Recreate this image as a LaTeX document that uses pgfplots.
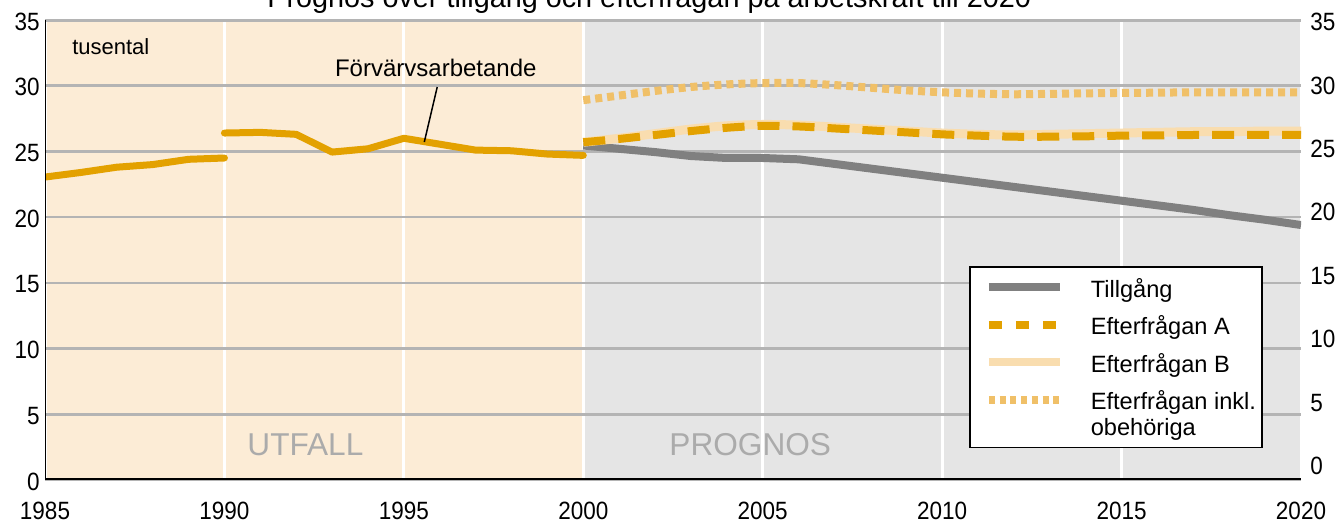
\documentclass[border=0pt]{standalone}
\usepackage{fontspec}
\setmainfont{Liberation Sans}
\newfontfamily\narrowfont[FakeStretch=0.9]{Liberation Sans}
\usepackage{pgfplots}
\pgfplotsset{compat=1.18}
\definecolor{gold}{HTML}{E3A100}
\definecolor{lightB}{HTML}{F9DDAF}
\definecolor{dotc}{HTML}{F0C068}
\definecolor{grayT}{HTML}{808080}
\definecolor{beige}{HTML}{FCECD6}
\definecolor{bggray}{HTML}{E5E5E5}
\definecolor{gridgray}{HTML}{B4B4B4}
\definecolor{labgray}{HTML}{ABABAB}
\begin{document}
\begin{tikzpicture}
\begin{axis}[
 set layers,
 scale only axis, width=628pt, height=230pt,
 xmin=1985, xmax=2020, ymin=0, ymax=35,
 xtick={1985,1990,...,2020}, ytick={0,5,...,35},
 grid=major,
 major x grid style={white, line width=1.5pt},
 major y grid style={gridgray, line width=1.3pt},
 axis line style={draw=none},
 major tick length=0pt,
 tick label style={font=\fontsize{12.5}{14}\narrowfont},
 /pgf/number format/assume math mode=true,
 /pgf/number format/1000 sep={},
 xticklabel style={inner ysep=0pt, yshift=-11pt, anchor=north},
 yticklabel style={inner xsep=0pt, xshift=-2.5pt, yshift=-0.8pt, anchor=east},
 legend style={at={(rel axis cs:0.7357,0.4652)}, anchor=north west, draw=black, line width=0.75pt, fill=white,
   inner xsep=3pt, inner ysep=5.35pt, row sep=7.9pt, font=\fontsize{11.8}{12.5}\selectfont,
   nodes={inner sep=0pt, text height=10pt, text depth=0.8pt}, cells={anchor=base west}},
 legend image code/.code={\path[draw=none,fill=none] (0pt,0pt) -- (57.5pt,0pt); \draw[#1] (6.5pt,5pt) -- (42pt,5pt);},
]
\begin{pgfonlayer}{axis background}
\fill[beige] (axis cs:1985,0) rectangle (axis cs:2000,35);
\fill[bggray] (axis cs:2000,0) rectangle (axis cs:2020,35);
\end{pgfonlayer}
\coordinate (SW) at (rel axis cs:0,0);
\coordinate (NE) at (rel axis cs:1,1);
\coordinate (T) at (rel axis cs:0.481,1);

% Förvärvsarbetande
\addplot[gold, line width=3.5pt, line cap=round, line join=round, forget plot] coordinates {
(1985,23.05)(1986,23.4)(1987,23.8)(1988,24.0)(1989,24.4)(1990,24.5)};
\addplot[gold, line width=3.5pt, line cap=round, line join=round, forget plot] coordinates {
(1990,26.4)(1991,26.45)(1992,26.3)(1993,24.95)(1994,25.2)(1995,26.0)(1996,25.55)(1997,25.1)(1998,25.05)(1999,24.8)(2000,24.7)};
% Tillgång
\addplot[grayT, line width=4pt, forget plot] coordinates {
(2000,25.45)(2001,25.2)(2002,24.95)(2003,24.65)(2004,24.5)(2005,24.5)(2006,24.4)(2007,24.05)(2008,23.7)(2009,23.35)(2010,23.0)
(2011,22.65)(2012,22.3)(2013,21.95)(2014,21.6)(2015,21.25)(2016,20.9)(2017,20.55)(2018,20.15)(2019,19.8)(2020,19.4)};
% Efterfrågan B
\addplot[lightB, line width=4.5pt, smooth, forget plot] coordinates {
(2000,25.7)(2001,26.0)(2002,26.35)(2003,26.7)(2004,26.95)(2005,27.05)(2006,27.0)(2007,26.85)(2008,26.7)(2009,26.55)(2010,26.4)
(2011,26.3)(2012,26.25)(2013,26.3)(2014,26.35)(2015,26.4)(2016,26.45)(2017,26.5)(2018,26.5)(2019,26.55)(2020,26.55)};
% Efterfrågan A
\addplot[gold, line width=4pt, dash pattern=on 11pt off 6.5pt, smooth, forget plot] coordinates {
(2000,25.7)(2001,25.95)(2002,26.25)(2003,26.55)(2004,26.8)(2005,26.95)(2006,26.9)(2007,26.75)(2008,26.6)(2009,26.45)(2010,26.3)
(2011,26.2)(2012,26.12)(2013,26.12)(2014,26.15)(2015,26.2)(2016,26.22)(2017,26.25)(2018,26.25)(2019,26.25)(2020,26.25)};
% Efterfrågan inkl. obehöriga
\addplot[dotc, line width=4pt, dash pattern=on 3.5pt off 2.5pt, smooth, forget plot] coordinates {
(2000,28.9)(2001,29.25)(2002,29.6)(2003,29.9)(2004,30.1)(2005,30.2)(2006,30.2)(2007,30.05)(2008,29.85)(2009,29.65)(2010,29.5)
(2011,29.4)(2012,29.35)(2013,29.38)(2014,29.42)(2015,29.45)(2016,29.47)(2017,29.5)(2018,29.5)(2019,29.5)(2020,29.5)};

\addlegendimage{grayT, line width=4pt}
\addlegendentry{Tillgång}
\addlegendimage{gold, line width=4pt, dash pattern=on 6.75pt off 6.75pt}
\addlegendentry{Efterfrågan A}
\addlegendimage{lightB, line width=4pt}
\addlegendentry{Efterfrågan B}
\addlegendimage{dotc, line width=4pt, dash pattern=on 3pt off 2.37pt}
\addlegendentry{Efterfrågan inkl.}
\addlegendimage{empty legend}
\addlegendentry[text height=4pt]{obehöriga}

\draw[black, line width=0.75pt] (axis cs:1995.93,29.9) -- (axis cs:1995.57,25.72);
\node[anchor=base, inner sep=0pt, font=\fontsize{12}{14}\selectfont] at (axis cs:1995.89,30.69) {Förvärvsarbetande};
\node[anchor=base west, inner sep=0pt, font=\fontsize{11}{13}\selectfont] at (axis cs:1985.75,32.34) {tusental};
\node[anchor=base west, inner sep=0pt, text=labgray, font=\fontsize{15.8}{18}\selectfont] at (axis cs:1990.63,1.83) {UTFALL};
\node[anchor=base west, inner sep=0pt, text=labgray, font=\fontsize{15.8}{18}\selectfont] at (axis cs:2002.39,1.83) {PROGNOS};

\draw[gridgray, line width=1.6pt] (rel axis cs:0,1) -- (rel axis cs:1,1);
\draw[black, line width=1.2pt] (rel axis cs:0,0) -- (rel axis cs:0,1);
\draw[black, line width=1.5pt] (rel axis cs:0,0) -- (rel axis cs:1,0);
\end{axis}
\begin{axis}[
 scale only axis, width=628pt, height=230pt,
 xmin=1985, xmax=2020, ymin=-1.1, ymax=35.16,
 axis x line=none, axis y line*=right, axis line style={draw=none},
 ytick={0,5,...,35}, major tick length=0pt,
 tick label style={font=\fontsize{12.5}{14}\narrowfont},
 /pgf/number format/assume math mode=true,
 yticklabel style={inner xsep=0pt, xshift=4.5pt, anchor=west},
]
\end{axis}
\node[anchor=base, inner sep=0pt, font=\fontsize{14.4}{16}\selectfont] at ([yshift=6pt]T) {Prognos över tillgång och efterfrågan på arbetskraft till 2020};
\pgfresetboundingbox
\useasboundingbox ([xshift=-22.5pt,yshift=-22pt]SW) rectangle ([xshift=19pt,yshift=10pt]NE);
\end{tikzpicture}
\end{document}
